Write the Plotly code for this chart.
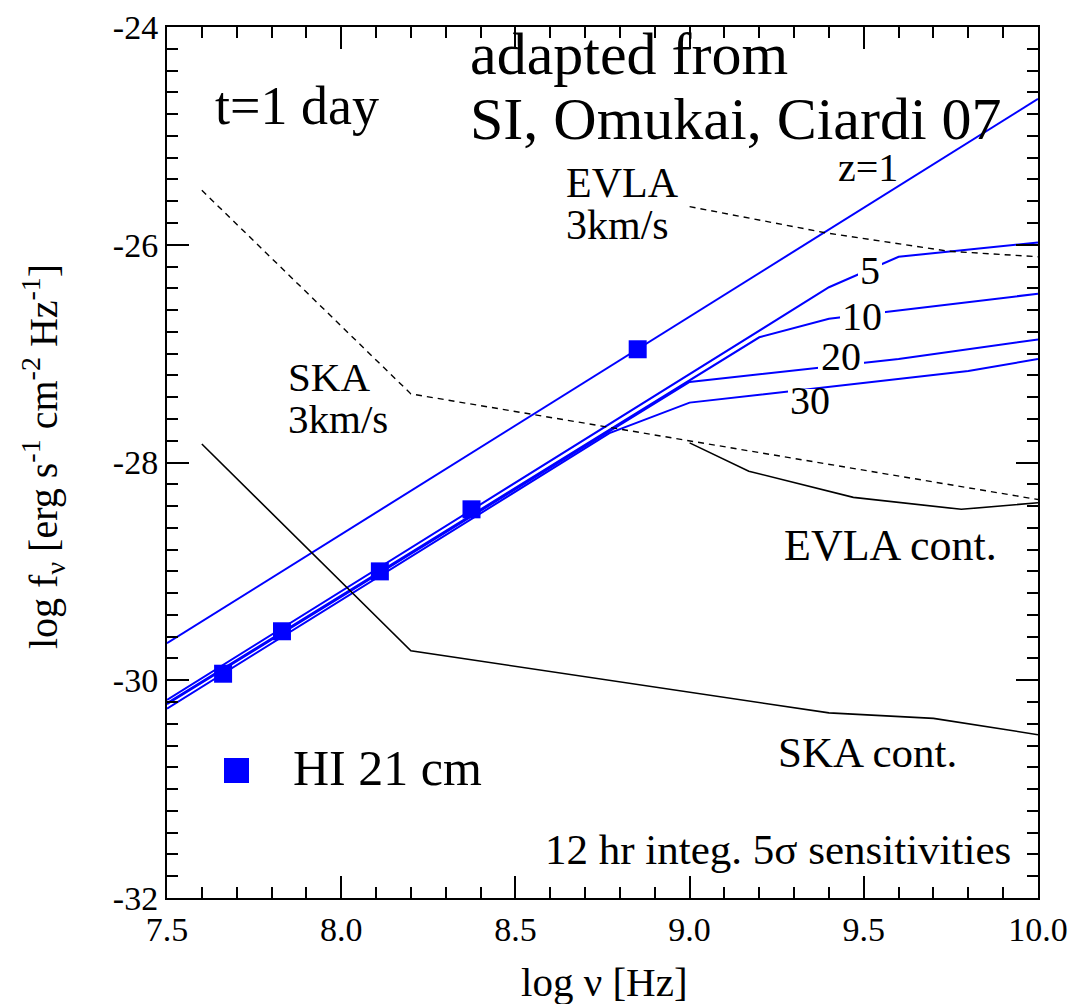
import plotly.graph_objects as go

# ---------------- data ----------------
# HI 21 cm line positions (log nu, log f_nu) for z = 30, 20, 10, 5, 1
hi21_x = [7.661, 7.830, 8.111, 8.374, 8.851]
hi21_y = [-29.94, -29.55, -29.00, -28.43, -26.96]

# afterglow spectra for different redshifts
z1_x = [7.5, 10.0]
z1_y = [-29.66, -24.66]
z5_x = [7.5, 9.4, 9.6, 10.0]
z5_y = [-30.18, -26.39, -26.11, -25.98]
z10_x = [7.5, 9.2, 9.4, 10.0]
z10_y = [-30.21, -26.85, -26.68, -26.45]
z20_x = [7.5, 9.0, 9.6, 10.0]
z20_y = [-30.22, -27.26, -27.05, -26.87]
z30_x = [7.5, 8.77, 9.0, 9.8, 10.0]
z30_y = [-30.26, -27.73, -27.45, -27.16, -27.05]

# sensitivities
ska_line_x = [7.6, 8.2, 10.0]
ska_line_y = [-25.50, -27.37, -28.34]
evla_line_x = [9.0, 9.39, 9.745, 10.0]
evla_line_y = [-25.65, -25.89, -26.06, -26.11]
ska_cont_x = [7.6, 8.2, 9.4, 9.7, 10.0]
ska_cont_y = [-27.83, -29.73, -30.30, -30.35, -30.50]
evla_cont_x = [9.0, 9.17, 9.47, 9.78, 10.0]
evla_cont_y = [-27.82, -28.08, -28.32, -28.43, -28.37]

x_ticks = [7.5, 8.0, 8.5, 9.0, 9.5, 10.0]
x_ticktext = ["7.5", "8.0", "8.5", "9.0", "9.5", "10.0"]
y_ticks = [-32, -30, -28, -26, -24]
y_ticktext = ["-32", "-30", "-28", "-26", "-24"]

x_title = "log ν [Hz]"
y_title = "log f<sub>ν</sub> [erg s<sup>-1</sup> cm<sup>-2</sup> Hz<sup>-1</sup>]"

# ---------------- figure ----------------
W, H = 1077, 1004
L, R, T, B = 167, 39, 27, 106
FONT = "Liberation Serif, Times New Roman, serif"
BLUE = "#0000ff"

def px(xp):
    return (xp - L) / (W - L - R)

def py(yp):
    return (H - B - yp) / (H - T - B)

fig = go.Figure()

for xs, ys in [(z1_x, z1_y), (z5_x, z5_y), (z10_x, z10_y), (z20_x, z20_y), (z30_x, z30_y)]:
    fig.add_trace(go.Scatter(x=xs, y=ys, mode="lines",
                             line=dict(color=BLUE, width=2), showlegend=False,
                             hoverinfo="skip"))

fig.add_trace(go.Scatter(x=ska_line_x, y=ska_line_y, mode="lines",
                         line=dict(color="black", width=1.4, dash="6px,5px"), showlegend=False))
fig.add_trace(go.Scatter(x=evla_line_x, y=evla_line_y, mode="lines",
                         line=dict(color="black", width=1.4, dash="6px,5px"), showlegend=False))
fig.add_trace(go.Scatter(x=ska_cont_x, y=ska_cont_y, mode="lines",
                         line=dict(color="black", width=1.6), showlegend=False))
fig.add_trace(go.Scatter(x=evla_cont_x, y=evla_cont_y, mode="lines",
                         line=dict(color="black", width=1.6), showlegend=False))

fig.add_trace(go.Scatter(x=hi21_x, y=hi21_y, mode="markers",
                         marker=dict(symbol="square", size=18, color=BLUE, line=dict(width=0)),
                         showlegend=False))

# gaps in the lines behind the z labels
shapes = []
for (x0, x1, yc, h) in [(858, 882, 272, 26), (840, 885, 318, 26), (818, 864, 359, 26), (788, 832, 402, 26)]:
    shapes.append(dict(type="rect", xref="paper", yref="paper",
                       x0=px(x0), x1=px(x1), y0=py(yc + h / 2), y1=py(yc - h / 2),
                       fillcolor="white", line=dict(width=0), layer="above"))
# legend key
shapes.append(dict(type="rect", xref="paper", yref="paper",
                   x0=px(224), x1=px(249), y0=py(783), y1=py(758),
                   fillcolor=BLUE, line=dict(width=0), layer="above"))

annots = []

def txt(s, x, y, size, anchor="left", angle=0):
    annots.append(dict(text=s, x=px(x), y=py(y), xref="paper", yref="paper",
                       xanchor=anchor, yanchor="middle", showarrow=False, textangle=angle,
                       font=dict(family=FONT, size=size, color="black")))

txt("adapted from", 468, 54, 60)
txt("SI, Omukai, Ciardi 07", 468, 119, 60)
txt("t=1 day", 213, 106, 54)
txt("z=1", 836, 168, 40)
txt("EVLA", 564, 183, 42)
txt("3km/s", 564, 225, 42)
txt("5", 870, 270, 40, "center")
txt("10", 862, 316, 40, "center")
txt("20", 841, 357, 40, "center")
txt("30", 810, 400, 40, "center")
txt("SKA", 286, 377, 41)
txt("3km/s", 286, 419, 41)
txt("EVLA cont.", 782, 545, 44)
txt("SKA cont.", 776, 752, 43)
txt("12 hr integ. 5σ sensitivities", 543, 849, 43)
txt("HI 21 cm", 291, 768, 50)
# axis titles
txt(x_title, 604, 982, 41, "center")
txt(y_title, 43, 457, 40, "center", -90)

axis_common = dict(
    showline=True, linecolor="black", linewidth=2, mirror="ticks",
    ticks="inside", ticklen=22, tickwidth=2, tickcolor="black",
    showgrid=False, zeroline=False, automargin=False,
    tickfont=dict(family=FONT, size=34, color="black"),
)

fig.update_layout(
    width=W, height=H, autosize=False,
    margin=dict(l=L, r=R, t=T, b=B),
    paper_bgcolor="white", plot_bgcolor="white",
    xaxis=dict(range=[7.5, 10.0], tickvals=x_ticks, ticktext=x_ticktext,
               minor=dict(dtick=0.1, tick0=7.5, ticks="inside", ticklen=11, tickwidth=2,
                          tickcolor="black", showgrid=False),
               **axis_common),
    yaxis=dict(range=[-32, -24], tickvals=y_ticks, ticktext=y_ticktext,
               minor=dict(dtick=0.2, tick0=-32, ticks="inside", ticklen=11, tickwidth=2,
                          tickcolor="black", showgrid=False),
               **axis_common),
    shapes=shapes,
    annotations=annots,
    showlegend=False,
)

fig.write_html("out.html")
